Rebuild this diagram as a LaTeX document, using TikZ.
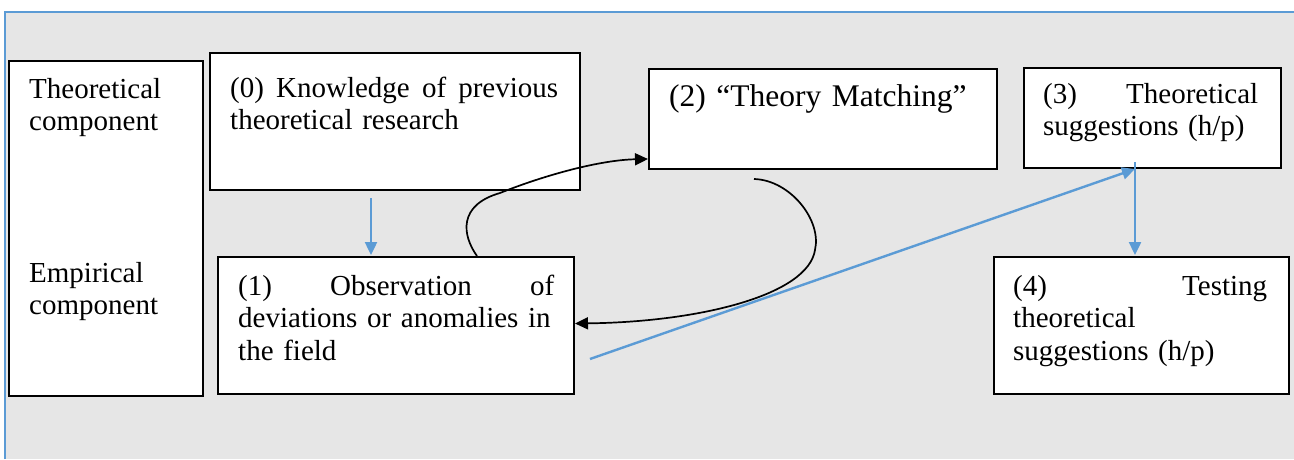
\documentclass[tikz,border=0pt]{standalone}
\usepackage{fontspec}
\setmainfont{Liberation Serif}
\usetikzlibrary{arrows.meta,calc}
\definecolor{bgrey}{RGB}{230,230,230}
\definecolor{lblue}{RGB}{91,155,213}
\begin{document}
\begin{tikzpicture}[x=1pt,y=-1pt,
  box/.style={draw=black,fill=white,line width=2pt,inner sep=0pt,anchor=north west},
  txt/.style={inner sep=0pt,anchor=north west,align=left,font=\fontsize{29}{32.5}\selectfont},
  blk/.style={draw=black,line width=1.7pt,-{Triangle[length=13pt,width=12pt]}},
  blu/.style={draw=lblue,line width=2.4pt,-{Triangle[length=13pt,width=12pt]}}]
\useasboundingbox (0,0) rectangle (1294,459);
\fill[bgrey] (5,12) rectangle (1294,459);
\draw[lblue,line width=1.5pt] (5,459) -- (5,12) -- (1294,12);
% boxes
\node[box,minimum width=194pt,minimum height=335pt] (L) at (8,60) {};
\node[box,minimum width=370pt,minimum height=137pt] (b0) at (209,52) {};
\node[box,minimum width=348pt,minimum height=100pt] (b2) at (648,68) {};
\node[box,minimum width=257pt,minimum height=100pt] (b3) at (1023,67) {};
\node[box,minimum width=356pt,minimum height=137pt] (b1) at (217,256) {};
\node[box,minimum width=295pt,minimum height=137pt] (b4) at (993,256) {};
% texts
\node[txt,text width=170pt] (tL1) at (29,76) {\rule{0pt}{22pt}Theoretical\\component};
\node[txt,text width=170pt] (tL2) at (29,260) {\rule{0pt}{22pt}Empirical\\component};
\node[txt,text width=328pt] (t0) at (230,75) {\rule{0pt}{22pt}(0)\hfill Knowledge\hfill of\hfill previous\\theoretical research};
\node[txt,text width=320pt,font=\fontsize{31.5}{36}\selectfont] (t2) at (669,82) {\rule{0pt}{24pt}(2) “Theory Matching”};
\node[txt,text width=215pt] (t3) at (1043,81) {\rule{0pt}{22pt}(3)\hfill Theoretical\\suggestions (h/p)};
\node[txt,text width=316pt] (t1) at (238,273) {\rule{0pt}{22pt}(1)\hfill Observation\hfill of\\deviations or anomalies in\\the field};
\node[txt,text width=254pt] (t4) at (1013,273) {\rule{0pt}{22pt}(4)\hfill Testing\\theoretical\\suggestions (h/p)};
% connectors
\draw[blu] ([xshift=-24pt,yshift=-7pt]b0.south) -- ([xshift=-25pt,yshift=1pt]b1.north);
\draw[blu] ([xshift=15pt,yshift=-33.5pt]b1.east) -- ([xshift=-17.5pt]b3.south);
\draw[blu] ([xshift=-17.5pt,yshift=7pt]b3.south) -- ([xshift=-6.5pt,yshift=1pt]b4.north);
\draw[blk] ([xshift=81pt]b1.north) .. controls (462,235) and (458,205) .. (500,193)
  .. controls (545,175) and (600,160) .. ([yshift=-40pt]b2.west);
\draw[blk] ([xshift=-69pt,yshift=-9pt]b2.south) .. controls (790,180) and (822,220) .. (815,250)
  .. controls (808,295) and (700,322) .. ([yshift=2pt]b1.east);
\end{tikzpicture}
\end{document}
